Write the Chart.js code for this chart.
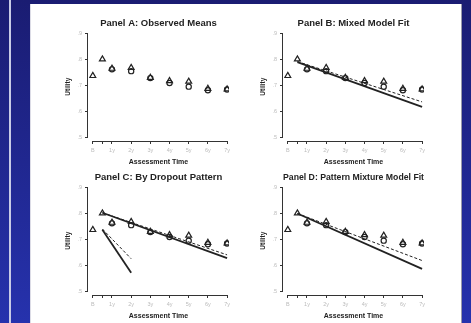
<!DOCTYPE html>
<html>
<head>
<meta charset="utf-8">
<script src="https://cdn.jsdelivr.net/npm/chart.js@4.4.1/dist/chart.umd.min.js"></script>
<style>
  html, body { margin: 0; padding: 0; }
  body {
    width: 471px; height: 323px; overflow: hidden; position: relative;
    background: linear-gradient(to bottom, #1a1c72 0%, #2632ad 100%);
    font-family: "Liberation Sans", Arial, sans-serif;
  }
  .stripe { position: absolute; left: 9px; top: 0; width: 2px; height: 323px; background: #c8cbe6; }
  .sheet {
    position: absolute; left: 30px; top: 4px; width: 432px; height: 319px; background: #fff;
    border-left: 1px solid #dcdce6; border-right: 1px solid #9a9aaa; box-sizing: border-box;
  }
  .panel { position: absolute; }
</style>
</head>
<body>
<div class="stripe"></div>
<div class="sheet"></div>
<canvas class="panel" id="panelA" width="195" height="152" style="left:40px;top:14px"></canvas>
<canvas class="panel" id="panelB" width="195" height="152" style="left:235px;top:14px"></canvas>
<canvas class="panel" id="panelC" width="195" height="152" style="left:40px;top:168px"></canvas>
<canvas class="panel" id="panelD" width="195" height="152" style="left:235px;top:168px"></canvas>
<script>
// assessment times (years) and axis ticks
const times = [0, 0.5, 1, 2, 3, 4, 5, 6, 7];
const xTickValues = [0, 0.5, 1, 2, 3, 4, 5, 6, 7];
const xTickLabels = ["B", "", "1y", "2y", "3y", "4y", "5y", "6y", "7y"];
const yTickValues = [0.5, 0.6, 0.7, 0.8, 0.9];
const yTickLabels = [".5", ".6", ".7", ".8", ".9"];

// observed means (triangles / circles)
const triangleMeans = [0.737, 0.801, 0.765, 0.768, 0.730, 0.717, 0.715, 0.687, 0.685];
const circleMeans = [null, null, 0.762, 0.755, 0.728, 0.709, 0.695, 0.681, 0.684];

// fitted lines: [start, end] times and values
const fitTimes = [0.5, 7];
const mixedSolid = [0.790, 0.617];
const mixedDashed = [0.792, 0.636];
const patternSolid = [0.803, 0.627];
const patternDashed = [0.803, 0.640];
const dropoutTimes = [0.5, 2];
const dropoutSolid = [0.737, 0.571];
const dropoutDashed = [0.740, 0.625];
const mixtureSolid = [0.800, 0.586];
const mixtureDashed = [0.800, 0.618];

const ink = "#222";

function toPoints(xs, ys) {
    return xs.map((x, i) => ({x: x, y: ys[i]})).filter(p => p.y !== null);
}

function fitLine(xs, ys, dashed) {
    return {
        type: "line",
        data: toPoints(xs, ys),
        borderColor: ink,
        borderWidth: dashed ? 1 : 1.8,
        borderDash: dashed ? [3, 2] : [],
        pointRadius: 0,
        fill: false
    };
}

// R style detached axes, drawn from first to last tick
const detachedAxes = {
    id: "detachedAxes",
    afterDraw(chart) {
        const ctx = chart.ctx;
        const xs = chart.scales.x, ys = chart.scales.y;
        const area = chart.chartArea;
        ctx.save();
        ctx.strokeStyle = "#333";
        ctx.lineWidth = 1;
        ctx.beginPath();
        const bx = Math.round(area.left) - 0.5;
        ctx.moveTo(bx, ys.getPixelForValue(yTickValues[0]));
        ctx.lineTo(bx, ys.getPixelForValue(yTickValues[yTickValues.length - 1]));
        const by = Math.round(area.bottom) + 0.5;
        ctx.moveTo(xs.getPixelForValue(xTickValues[0]), by);
        ctx.lineTo(xs.getPixelForValue(xTickValues[xTickValues.length - 1]), by);
        ctx.stroke();
        ctx.restore();
    }
};

function makePanel(id, title, lines) {
    const datasets = [
        {
            type: "scatter",
            data: toPoints(times, triangleMeans),
            pointStyle: "triangle",
            pointRadius: 3.4,
            borderColor: ink,
            backgroundColor: "rgba(0,0,0,0)",
            borderWidth: 1.2
        },
        {
            type: "scatter",
            data: toPoints(times, circleMeans),
            pointStyle: "circle",
            pointRadius: 2.6,
            borderColor: ink,
            backgroundColor: "rgba(0,0,0,0)",
            borderWidth: 1.2
        }
    ].concat(lines);

    return new Chart(document.getElementById(id), {
        data: {datasets: datasets},
        plugins: [detachedAxes],
        options: {
            responsive: false,
            animation: false,
            layout: {padding: {left: 24, right: 6, top: 0, bottom: 0}},
            plugins: {
                legend: {display: false},
                tooltip: {enabled: false},
                title: {
                    display: true,
                    text: title,
                    fullSize: false,
                    color: ink,
                    font: {family: "Liberation Sans", size: 9.5, weight: "bold"},
                    padding: {top: 4, bottom: 3}
                }
            },
            scales: {
                x: {
                    type: "linear",
                    min: -0.25,
                    max: 7.1,
                    afterBuildTicks: s => { s.ticks = xTickValues.map(v => ({value: v})); },
                    afterFit: s => { s.height = 25; },
                    ticks: {
                        callback: (v, i) => xTickLabels[i],
                        color: "#bbb",
                        font: {family: "Liberation Sans", size: 5.5},
                        padding: 3,
                        maxRotation: 0,
                        autoSkip: false
                    },
                    grid: {display: true, drawOnChartArea: false, drawTicks: true, tickLength: 3, color: "#333"},
                    border: {display: false},
                    title: {
                        display: true,
                        text: "Assessment Time",
                        color: ink,
                        font: {family: "Liberation Sans", size: 7, weight: "bold"},
                        padding: {top: 1, bottom: 0}
                    }
                },
                y: {
                    type: "linear",
                    min: 0.4846,
                    max: 0.905,
                    afterBuildTicks: s => { s.ticks = yTickValues.map(v => ({value: v})); },
                    afterFit: s => { s.width = 24; },
                    ticks: {
                        callback: (v, i) => yTickLabels[i],
                        color: "#bbb",
                        font: {family: "Liberation Sans", size: 5.5},
                        padding: 3
                    },
                    grid: {display: true, drawOnChartArea: false, drawTicks: true, tickLength: 3, color: "#333"},
                    border: {display: false},
                    title: {
                        display: true,
                        text: "Utility",
                        color: ink,
                        font: {family: "Liberation Sans", size: 6.5, weight: "bold"},
                        padding: {top: 0, bottom: 2}
                    }
                }
            }
        }
    });
}

makePanel("panelA", "Panel A: Observed Means", []);
makePanel("panelB", "Panel B: Mixed Model Fit", [
    fitLine(fitTimes, mixedSolid, false),
    fitLine(fitTimes, mixedDashed, true)
]);
makePanel("panelC", "Panel C: By Dropout Pattern", [
    fitLine(fitTimes, patternSolid, false),
    fitLine(fitTimes, patternDashed, true),
    fitLine(dropoutTimes, dropoutSolid, false),
    fitLine(dropoutTimes, dropoutDashed, true)
]);
makePanel("panelD", "Panel D: Pattern Mixture Model Fit", [
    fitLine(fitTimes, mixtureSolid, false),
    fitLine(fitTimes, mixtureDashed, true)
]);
</script>
</body>
</html>
